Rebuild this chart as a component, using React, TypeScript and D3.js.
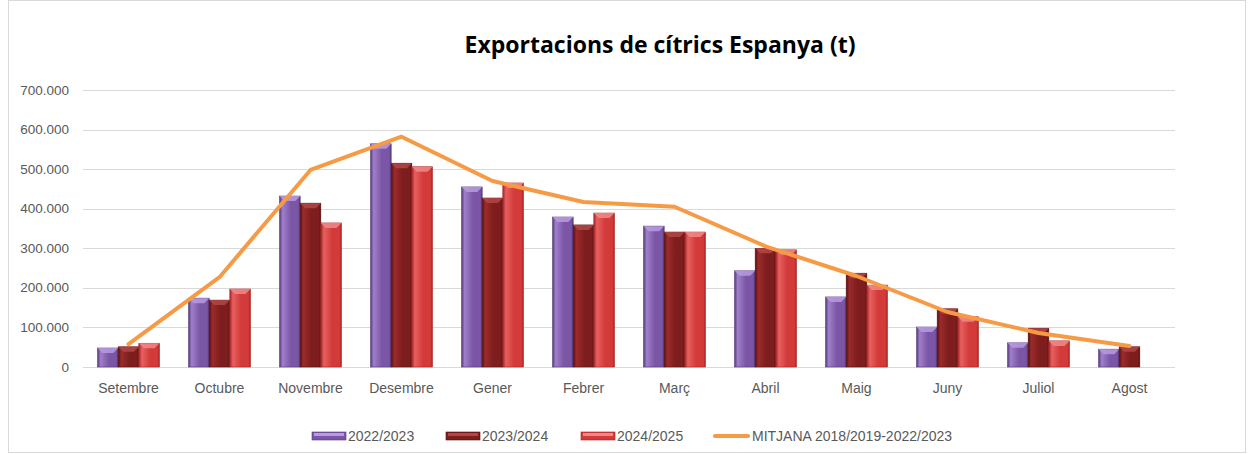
import React, { useEffect, useRef } from "react";
import * as d3 from "d3";

const months = ["Setembre", "Octubre", "Novembre", "Desembre", "Gener", "Febrer", "Març", "Abril", "Maig", "Juny", "Juliol", "Agost"];
const seriesNames = ["2022/2023", "2023/2024", "2024/2025"];
const s2022: (number | null)[] = [48000, 174000, 432000, 564000, 455000, 379000, 356000, 243000, 177000, 101000, 61000, 45000];
const s2023: (number | null)[] = [51000, 169000, 414000, 515000, 427000, 359000, 341000, 300000, 237000, 147000, 98000, 51000];
const s2024: (number | null)[] = [60000, 197000, 364000, 506000, 465000, 389000, 341000, 296000, 207000, 127000, 66000, null];
const averageName = "MITJANA 2018/2019-2022/2023";
const average = [58000, 227000, 498000, 582000, 470000, 417000, 405000, 305000, 230000, 139000, 86000, 53000];
const yTicks = [0, 100000, 200000, 300000, 400000, 500000, 600000, 700000];

const barColors = [
  { base: "#7b56a6", light: "#a07fcb", dark: "#553a7a", top: "#b79be0" },
  { base: "#7d1d1d", light: "#9c2b2b", dark: "#561010", top: "#b04848" },
  { base: "#d33a3a", light: "#e86060", dark: "#a82424", top: "#f08a8a" },
];
const lineColor = "#f79a45";

const W = 1254;
const H = 454;
const margin = { left: 83, right: 79, top: 90, bottom: 87 };

const fmt = (v: number) => (v === 0 ? "0" : d3.format(",")(v).replace(/,/g, "."));

export default function App() {
  const ref = useRef<SVGSVGElement>(null);

  useEffect(() => {
    const svg = d3.select(ref.current);
    svg.selectAll("*").remove();

    const x = d3.scaleBand().domain(months).range([margin.left, W - margin.right]).paddingInner(0).paddingOuter(0);
    const y = d3.scaleLinear().domain([0, 700000]).range([H - margin.bottom, margin.top]);
    const xs = d3.scaleBand().domain(seriesNames).range([0, x.bandwidth() * 0.68]).padding(0);
    const groupOffset = (x.bandwidth() - x.bandwidth() * 0.68) / 2;

    const defs = svg.append("defs");
    barColors.forEach((c, i) => {
      const g = defs.append("linearGradient").attr("id", `bar${i}`).attr("x1", "0").attr("x2", "1").attr("y1", "0").attr("y2", "0");
      g.append("stop").attr("offset", "0").attr("stop-color", c.dark);
      g.append("stop").attr("offset", "0.15").attr("stop-color", c.light);
      g.append("stop").attr("offset", "0.55").attr("stop-color", c.base);
      g.append("stop").attr("offset", "0.9").attr("stop-color", c.base);
      g.append("stop").attr("offset", "1").attr("stop-color", c.dark);
    });

    // frame
    svg.append("rect").attr("x", 8.5).attr("y", 0.5).attr("width", W - 17).attr("height", H - 2)
      .attr("fill", "white").attr("stroke", "#d9d9d9");

    // title
    svg.append("text").attr("x", 660).attr("y", 53).attr("text-anchor", "middle")
      .attr("font-family", "'Open Sans', sans-serif").attr("font-weight", "bold").attr("font-size", 23)
      .attr("fill", "#000").text("Exportacions de cítrics Espanya (t)");

    // grid + y labels
    const gy = svg.append("g");
    yTicks.forEach((t) => {
      gy.append("line").attr("x1", margin.left).attr("x2", W - margin.right)
        .attr("y1", Math.round(y(t)) + 0.5).attr("y2", Math.round(y(t)) + 0.5)
        .attr("stroke", "#d9d9d9").attr("stroke-width", 1.2);
      gy.append("text").attr("x", 69).attr("y", y(t) + 4.5).attr("text-anchor", "end")
        .attr("font-family", "'Liberation Sans', sans-serif").attr("font-size", 13.5).attr("fill", "#595959")
        .text(fmt(t));
    });

    // x labels
    months.forEach((m) => {
      svg.append("text").attr("x", (x(m) ?? 0) + x.bandwidth() / 2).attr("y", 393).attr("text-anchor", "middle")
        .attr("font-family", "'Liberation Sans', sans-serif").attr("font-size", 14).attr("fill", "#595959").text(m);
    });

    // bars
    const all = [s2022, s2023, s2024];
    all.forEach((series, si) => {
      const c = barColors[si];
      series.forEach((v, mi) => {
        if (v == null) return;
        const bx = (x(months[mi]) ?? 0) + groupOffset + (xs(seriesNames[si]) ?? 0);
        const bw = xs.bandwidth();
        const top = y(v);
        const bottom = y(0);
        const g = svg.append("g");
        g.append("rect").attr("x", bx).attr("y", top).attr("width", bw).attr("height", bottom - top)
          .attr("fill", `url(#bar${si})`).attr("stroke", c.dark).attr("stroke-width", 0.6);
        const bev = Math.min(5, (bottom - top) / 2);
        g.append("path")
          .attr("d", `M${bx},${top} L${bx + bw},${top} L${bx + bw - bev},${top + bev} L${bx + bev},${top + bev} Z`)
          .attr("fill", c.top).attr("opacity", 0.85);
      });
    });

    // average line
    const line = d3.line<number>()
      .x((_, i) => (x(months[i]) ?? 0) + x.bandwidth() / 2)
      .y((d) => y(d));
    svg.append("path").datum(average).attr("d", line).attr("fill", "none")
      .attr("stroke", lineColor).attr("stroke-width", 4).attr("stroke-linejoin", "round").attr("stroke-linecap", "round");

    // legend
    const legend = svg.append("g");
    const items = [
      { name: seriesNames[0], x: 312, kind: 0 },
      { name: seriesNames[1], x: 446, kind: 1 },
      { name: seriesNames[2], x: 581, kind: 2 },
      { name: averageName, x: 713, kind: 3 },
    ];
    const ly = 436;
    const legendFont = "'Liberation Sans', sans-serif";
    items.forEach((it) => {
      if (it.kind < 3) {
        const c = barColors[it.kind];
        legend.append("rect").attr("x", it.x).attr("y", ly - 4).attr("width", 34).attr("height", 8)
          .attr("fill", c.base).attr("stroke", c.dark).attr("stroke-width", 0.6);
        legend.append("rect").attr("x", it.x + 2).attr("y", ly - 3).attr("width", 30).attr("height", 3).attr("fill", c.top);
        legend.append("text").attr("x", it.x + 36).attr("y", ly + 5)
          .attr("font-family", legendFont).attr("font-size", 14).attr("fill", "#595959").text(it.name);
      } else {
        legend.append("line").attr("x1", it.x + 2).attr("x2", it.x + 35).attr("y1", ly).attr("y2", ly)
          .attr("stroke", lineColor).attr("stroke-width", 4).attr("stroke-linecap", "round");
        legend.append("text").attr("x", it.x + 39).attr("y", ly + 5)
          .attr("font-family", legendFont).attr("font-size", 14).attr("fill", "#595959").text(it.name);
      }
    });
  }, []);

  return (
    <svg ref={ref} width={W} height={H} style={{ position: "absolute", left: 0, top: 0, display: "block" }} />
  );
}
